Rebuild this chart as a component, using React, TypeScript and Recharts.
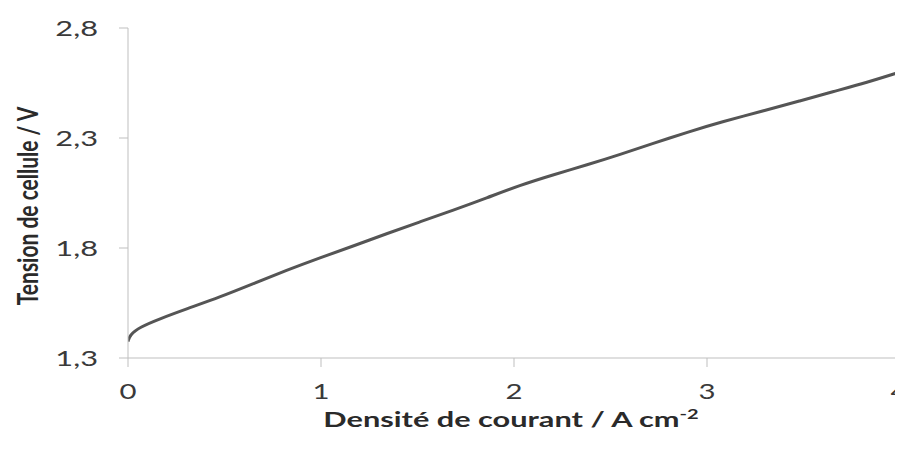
import React from "react";
import { LineChart, Line, XAxis, YAxis } from "recharts";

const currentDensity = [0, 0.01, 0.06, 0.17, 0.3, 0.48, 0.65, 0.82, 1.0, 1.17, 1.34, 1.51, 1.68, 1.86, 2.03, 2.2, 2.38, 2.55, 2.72, 2.9, 3.07, 3.31, 3.48, 3.65, 3.83, 4.0];
const cellVoltage = [1.375, 1.405, 1.44, 1.48, 1.522, 1.578, 1.638, 1.698, 1.757, 1.81, 1.865, 1.918, 1.97, 2.028, 2.085, 2.132, 2.178, 2.225, 2.275, 2.327, 2.372, 2.428, 2.468, 2.51, 2.553, 2.6];
const xTicks = [0, 1, 2, 3, 4];
const yTicks = [1.3, 1.8, 2.3, 2.8];

const data = currentDensity.map((x, i) => ({ x, v: cellVoltage[i] }));

const FONT = "Lato, 'Open Sans', sans-serif";
const STRETCH = 1.4;

const YTick = (props: any) => {
  const { x, y, payload } = props;
  return (
    <text
      transform={`translate(${x},${y}) scale(${STRETCH},1)`}
      textAnchor="end"
      dy="0.36em"
      fontFamily={FONT}
      fontSize={22}
      fill="#3a3a3a"
    >
      {String(payload.value.toFixed(1)).replace(".", ",")}
    </text>
  );
};

const XTick = (props: any) => {
  const { x, y, payload } = props;
  return (
    <text
      transform={`translate(${x},${y}) scale(${STRETCH},1)`}
      textAnchor="middle"
      dy="0.71em"
      fontFamily={FONT}
      fontSize={21}
      fill="#3a3a3a"
    >
      {String(payload.value)}
    </text>
  );
};

const XTitle = (props: any) => {
  const vb = props.viewBox || { x: 120, y: 350, width: 772, height: 97 };
  const cx = vb.x + vb.width / 2 - 3;
  const cy = vb.y + 69;
  return (
    <text
      transform={`translate(${cx},${cy}) scale(1.43,1)`}
      textAnchor="middle"
      fontFamily={FONT}
      fontWeight="bold"
      fontSize={21.5}
      fill="#2a2a2a"
    >
      Densité de courant / A cm
      <tspan fontSize={14} dy={-8}>-2</tspan>
    </text>
  );
};

const YTitle = (props: any) => {
  const vb = props.viewBox || { x: 0, y: 20, width: 120, height: 330 };
  const cx = 19;
  const cy = vb.y + vb.height / 2 + 13;
  return (
    <text
      transform={`translate(${cx},${cy}) scale(${STRETCH},1) rotate(-90)`}
      textAnchor="middle"
      dy="0.36em"
      fontFamily={FONT}
      fontWeight="bold"
      fontSize={21}
      fill="#2a2a2a"
    >
      Tension de cellule / V
    </text>
  );
};

export default function App() {
  return (
    <div style={{ width: 895, height: 447, background: "#fff" }}>
      <LineChart
        width={895}
        height={447}
        data={data}
        margin={{ top: 20, right: 3, left: 0, bottom: 0 }}
      >
        <XAxis
          dataKey="x"
          type="number"
          domain={[0, 4]}
          ticks={xTicks}
          height={97}
          stroke="#bfbfbf"
          tickSize={9}
          tickMargin={17}
          tick={<XTick />}
          tickLine={{ stroke: "#bfbfbf" }}
          label={<XTitle />}
          allowDataOverflow
        />
        <YAxis
          type="number"
          domain={[1.3, 2.8]}
          ticks={yTicks}
          width={120}
          stroke="#bfbfbf"
          tickSize={9}
          tickMargin={21}
          tick={<YTick />}
          tickLine={{ stroke: "#bfbfbf" }}
          label={<YTitle />}
          allowDataOverflow
        />
        <Line
          dataKey="v"
          type="basis"
          stroke="#555555"
          strokeWidth={3}
          dot={false}
          isAnimationActive={false}
        />
      </LineChart>
    </div>
  );
}
